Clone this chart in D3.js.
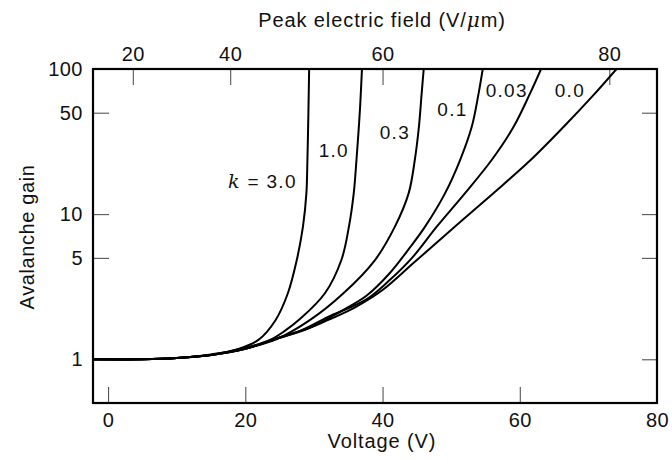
<!doctype html>
<html>
  <head>
    <meta charset="utf-8">
    <title>Avalanche gain vs voltage</title>
    <script src="https://cdnjs.cloudflare.com/ajax/libs/d3/7.8.5/d3.min.js"></script>
    <style>
    body {
      margin: 0;
      background: #fff;
      font-family: 'Liberation Sans', Arial, sans-serif;
    }
    text { fill: #111; }
    </style>
  </head>
  <body>
    <div id="chart"></div>
    <script>

      // curve values: [voltage (V), avalanche gain]
      const kLabels = ['3.0', '1.0', '0.3', '0.1', '0.03', '0.0'];

      const gainK30 = [[-2.2,1],[5,1],[10,1.02],[15,1.08],[19,1.18],[21.9,1.36],[24.4,1.86],
        [26.2,2.85],[27.5,4.83],[28.4,8.2],[28.9,13.9],[29.05,23.6],[29.2,52],[29.3,100]];
      const gainK10 = [[-2.2,1],[5,1],[10,1.02],[15,1.07],[20,1.2],[23.6,1.36],[25.6,1.55],[28,1.9],
        [31.6,2.85],[34,4.83],[35.1,8.2],[35.8,13.9],[36.2,23.6],[36.7,52],[37.0,100]];
      const gainK03 = [[-2.2,1],[5,1],[10,1.02],[15,1.07],[20,1.19],[24.6,1.38],[29.4,1.86],
        [34.3,2.85],[38.9,4.83],[41.8,8.2],[43.8,13.9],[44.7,23.6],[45.3,40],[45.7,67.9],[46.0,100]];
      const gainK01 = [[-2.2,1],[5,1],[10,1.02],[15,1.07],[20,1.18],[24,1.37],[30,1.7],[34,2.15],
        [37.7,2.75],[41,3.9],[44,5.9],[46.2,8.2],[49.1,13.9],[51.3,23.6],[53.0,40],[54.0,67.9],[54.6,100]];
      const gainK003 = [[-2.2,1],[5,1],[10,1.02],[15,1.07],[20,1.18],[24,1.36],[28,1.57],[32,1.95],
        [37.7,2.6],[41,3.5],[44.3,5.0],[47.9,8.2],[52.0,13.9],[55.9,23.6],[59.1,40],[61.5,67.9],[63.1,100]];
      const gainK0 = [[-2.2,1],[5,1],[10,1.02],[15,1.07],[20,1.18],[24,1.36],[28,1.55],[32,1.86],
        [36,2.28],[40,3.0],[44.5,4.6],[50.4,8.1],[56.2,14],[61.5,23.4],[66.4,40],[70.6,65],[74.1,100]];

      // where each k label sits, in data units [voltage, gain]
      const labelSpots = [[27.5,15.1],[32.9,24.6],[41.8,33],[50.2,47.5],[58.1,64.5],[67.3,64.5]];

      // axes
      const voltTicks = [0, 20, 40, 60, 80];
      const gainTicks = [1, 5, 10, 50, 100];
      const fieldTicks = [20, 40, 60, 80];
      // peak field ticks sit at these voltages (nonlinear top axis)
      const fieldTickVolts = [3.6, 17.8, 40.0, 73.05];

      const curves = [gainK30, gainK10, gainK03, gainK01, gainK003, gainK0];

      const W = 672, H = 461;
      const m = {left: 93, right: 657, top: 69, bottom: 403};

      const x = d3.scaleLinear().domain([-2.2, 80]).range([m.left, m.right]);
      const y = d3.scaleLog().domain([0.5, 100]).range([m.bottom, m.top]);

      const svg = d3.select('#chart').append('svg')
        .attr('width', W)
        .attr('height', H);

      svg.append('clipPath').attr('id', 'plot')
        .append('rect')
        .attr('x', m.left).attr('y', m.top)
        .attr('width', m.right - m.left).attr('height', m.bottom - m.top);

      // axes with inward ticks
      const fmt = d3.format('d');
      const styleAxis = g => {
        g.select('.domain').remove();
        g.selectAll('.tick line').attr('stroke', '#444').attr('stroke-width', 1);
        g.selectAll('.tick text')
          .style('font-family', "'Liberation Sans', Arial, sans-serif")
          .style('font-size', '20px')
          .style('letter-spacing', '0.5px')
          .attr('fill', '#111');
      };

      svg.append('g')
        .attr('transform', `translate(0,${m.bottom})`)
        .call(d3.axisBottom(x).tickValues(voltTicks).tickFormat(fmt).tickSize(-16).tickPadding(10))
        .call(styleAxis);

      svg.append('g')
        .attr('transform', `translate(${m.left},0)`)
        .call(d3.axisLeft(y).tickValues(gainTicks).tickFormat(fmt).tickSize(-16).tickPadding(10))
        .call(styleAxis);

      svg.append('g')
        .attr('transform', `translate(${m.right},0)`)
        .call(d3.axisRight(y).tickValues(gainTicks).tickFormat('').tickSize(-15))
        .call(styleAxis);

      svg.append('g')
        .attr('transform', `translate(0,${m.top})`)
        .call(d3.axisTop(x).tickValues(fieldTickVolts)
          .tickFormat((d, i) => fieldTicks[i]).tickSize(-16).tickPadding(8))
        .call(styleAxis);

      // curves
      const line = d3.line()
        .x(d => x(d[0]))
        .y(d => y(d[1]))
        .curve(d3.curveCatmullRom.alpha(0.5));

      svg.append('g')
        .attr('clip-path', 'url(#plot)')
        .selectAll('path')
        .data(curves)
        .join('path')
        .attr('d', line)
        .attr('fill', 'none')
        .attr('stroke', '#000')
        .attr('stroke-width', 2);

      // frame
      svg.append('rect')
        .attr('x', m.left).attr('y', m.top)
        .attr('width', m.right - m.left).attr('height', m.bottom - m.top)
        .attr('fill', 'none')
        .attr('stroke', '#000')
        .attr('stroke-width', 2.2);

      // k labels
      const labels = svg.append('g')
        .style('font-size', '19px')
        .style('letter-spacing', '1.3px');

      kLabels.forEach((k, i) => {
        const t = labels.append('text')
          .attr('x', x(labelSpots[i][0]))
          .attr('y', y(labelSpots[i][1]))
          .style('text-anchor', i === 0 ? 'end' : 'middle');
        if (i === 0) {
          t.append('tspan')
            .style('font-family', "'DejaVu Serif', serif")
            .style('font-style', 'italic')
            .text('k');
          t.append('tspan').text(' = ' + k);
        } else {
          t.text(k);
        }
      });

      // axis titles
      svg.append('text')
        .attr('x', 382).attr('y', 448)
        .style('text-anchor', 'middle')
        .style('font-size', '20px')
        .style('letter-spacing', '0.9px')
        .text('Voltage (V)');

      const topTitle = svg.append('text')
        .attr('x', 382).attr('y', 27)
        .style('text-anchor', 'middle')
        .style('font-size', '20px')
        .style('letter-spacing', '0.9px');
      topTitle.append('tspan').text('Peak electric field (V/');
      topTitle.append('tspan')
        .style('font-family', "'DejaVu Serif', serif")
        .style('font-style', 'italic')
        .text('μ');
      topTitle.append('tspan').text('m)');

      svg.append('text')
        .attr('transform', 'translate(34,237) rotate(-90)')
        .style('text-anchor', 'middle')
        .style('font-size', '20px')
        .style('letter-spacing', '0.6px')
        .text('Avalanche gain');

    </script>
  </body>
</html>
